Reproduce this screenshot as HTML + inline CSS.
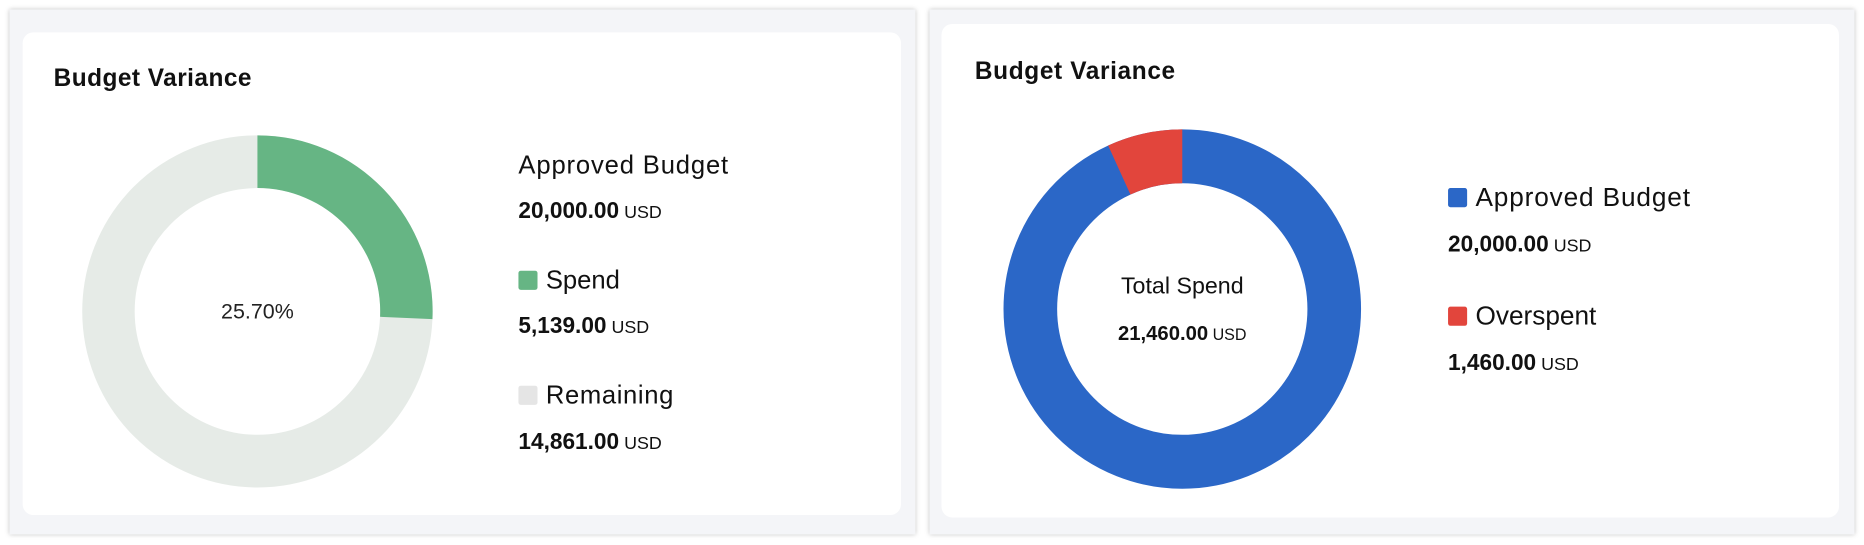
<!DOCTYPE html>
<html><head><meta charset="utf-8"><style>
html,body{margin:0;padding:0;background:#fff;}
svg{display:block;font-family:"Liberation Sans",sans-serif;}
</style></head><body>
<svg width="1864" height="545" viewBox="0 0 1564 455" preserveAspectRatio="none">
<defs><filter id="sh" x="-5%" y="-5%" width="110%" height="110%"><feDropShadow dx="0" dy="0" stdDeviation="2" flood-color="#000" flood-opacity="0.25"/></filter></defs>
<rect x="0" y="0" width="1564" height="455" fill="#ffffff"/>
<rect x="8" y="8" width="760" height="438" fill="#f4f5f8" filter="url(#sh)"/>
<rect x="19" y="27" width="737" height="403" rx="9" fill="#fff"/>
<rect x="780" y="8" width="776" height="438" fill="#f4f5f8" filter="url(#sh)"/>
<rect x="790" y="20" width="753" height="412" rx="9" fill="#fff"/>

<text x="45" y="72" font-size="20.5" font-weight="bold" fill="#111" textLength="166">Budget Variance</text>
<circle cx="216" cy="260" r="125" fill="none" stroke="#e6ebe7" stroke-width="44"/>
<path d="M216,113 A147,147 0 0 1 362.86,266.41 L318.9,264.49 A103,103 0 0 0 216,157 Z" fill="#66b584"/>
<text x="216" y="266" font-size="18" text-anchor="middle" fill="#222">25.70%</text>
<text x="435" y="145" font-size="21.5" fill="#111" textLength="176">Approved Budget</text>
<text x="435" y="182" font-size="19" font-weight="bold" fill="#111">20,000.00<tspan font-size="15" font-weight="normal"> USD</tspan></text>
<rect x="435" y="226" width="16" height="16" rx="2" fill="#66b584"/>
<text x="458" y="241" font-size="21.5" fill="#111">Spend</text>
<text x="435" y="278" font-size="19" font-weight="bold" fill="#111">5,139.00<tspan font-size="15" font-weight="normal"> USD</tspan></text>
<rect x="435" y="322" width="16" height="16" rx="2" fill="#e5e5e5"/>
<text x="458" y="337" font-size="21.5" fill="#111" textLength="107">Remaining</text>
<text x="435" y="375" font-size="19" font-weight="bold" fill="#111">14,861.00<tspan font-size="15" font-weight="normal"> USD</tspan></text>

<text x="818" y="66" font-size="20.5" font-weight="bold" fill="#111" textLength="168">Budget Variance</text>
<circle cx="992" cy="258" r="127.5" fill="none" stroke="#2b67c7" stroke-width="45"/>
<path d="M929.8,121.5 A150,150 0 0 1 992,108 L992,153 A105,105 0 0 0 948.5,162.4 Z" fill="#e2453c"/>
<text x="992" y="245" font-size="19.5" text-anchor="middle" fill="#111">Total Spend</text>
<text x="992" y="284" font-size="17" font-weight="bold" text-anchor="middle" fill="#111">21,460.00<tspan font-size="13.5" font-weight="normal"> USD</tspan></text>
<rect x="1215" y="157" width="16" height="16" rx="2" fill="#2b67c7"/>
<text x="1238" y="172" font-size="22" fill="#111" textLength="180">Approved Budget</text>
<text x="1215" y="210" font-size="19" font-weight="bold" fill="#111">20,000.00<tspan font-size="15" font-weight="normal"> USD</tspan></text>
<rect x="1215" y="256" width="16" height="16" rx="2" fill="#e2453c"/>
<text x="1238" y="271" font-size="22" fill="#111">Overspent</text>
<text x="1215" y="309" font-size="19" font-weight="bold" fill="#111">1,460.00<tspan font-size="15" font-weight="normal"> USD</tspan></text>
</svg>
</body></html>
